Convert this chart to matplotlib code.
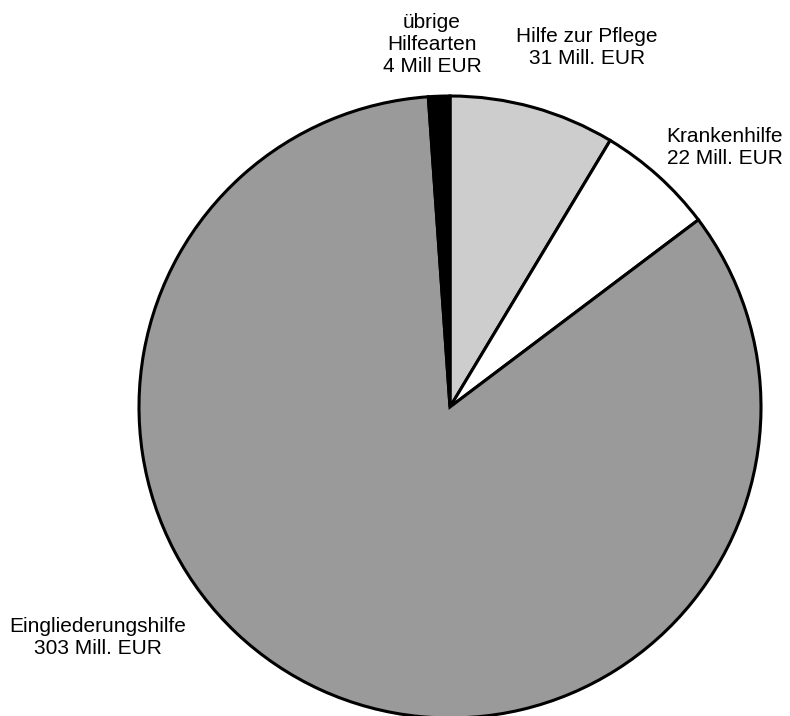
import matplotlib
matplotlib.use("Agg")
import matplotlib.pyplot as plt

labels = ["Hilfe zur Pflege\n31 Mill. EUR", "Krankenhilfe\n22 Mill. EUR",
          "Eingliederungshilfe\n303 Mill. EUR", "übrige\nHilfearten\n4 Mill EUR"]
values = [31, 22, 303, 4]
colors = ["#cdcdcd", "#ffffff", "#9a9a9a", "#000000"]

W, H = 790, 716
fig = plt.figure(figsize=(W / 100, H / 100), dpi=100)
ax = fig.add_axes([0, 0, 1, 1])
plt.rcParams['font.family'] = ['Liberation Sans', 'DejaVu Sans']

cx, cy, r = 450, H - 407, 311
ax.pie(values, startangle=90, counterclock=False, center=(cx, cy), radius=r,
       colors=colors, wedgeprops=dict(edgecolor="black", linewidth=2.2))
ax.set_xlim(0, W)
ax.set_ylim(0, H)
ax.set_aspect("equal")
ax.axis("off")

label_pos = [(587, 47), (725, 147), (98, 637), (432, 45)]
for lab, (x, y) in zip(labels, label_pos):
    ax.text(x, H - y, lab, ha="center", va="center", fontsize=15,
            linespacing=1.2, family=['Liberation Sans', 'DejaVu Sans'])

fig.savefig("out.png", dpi=100)
